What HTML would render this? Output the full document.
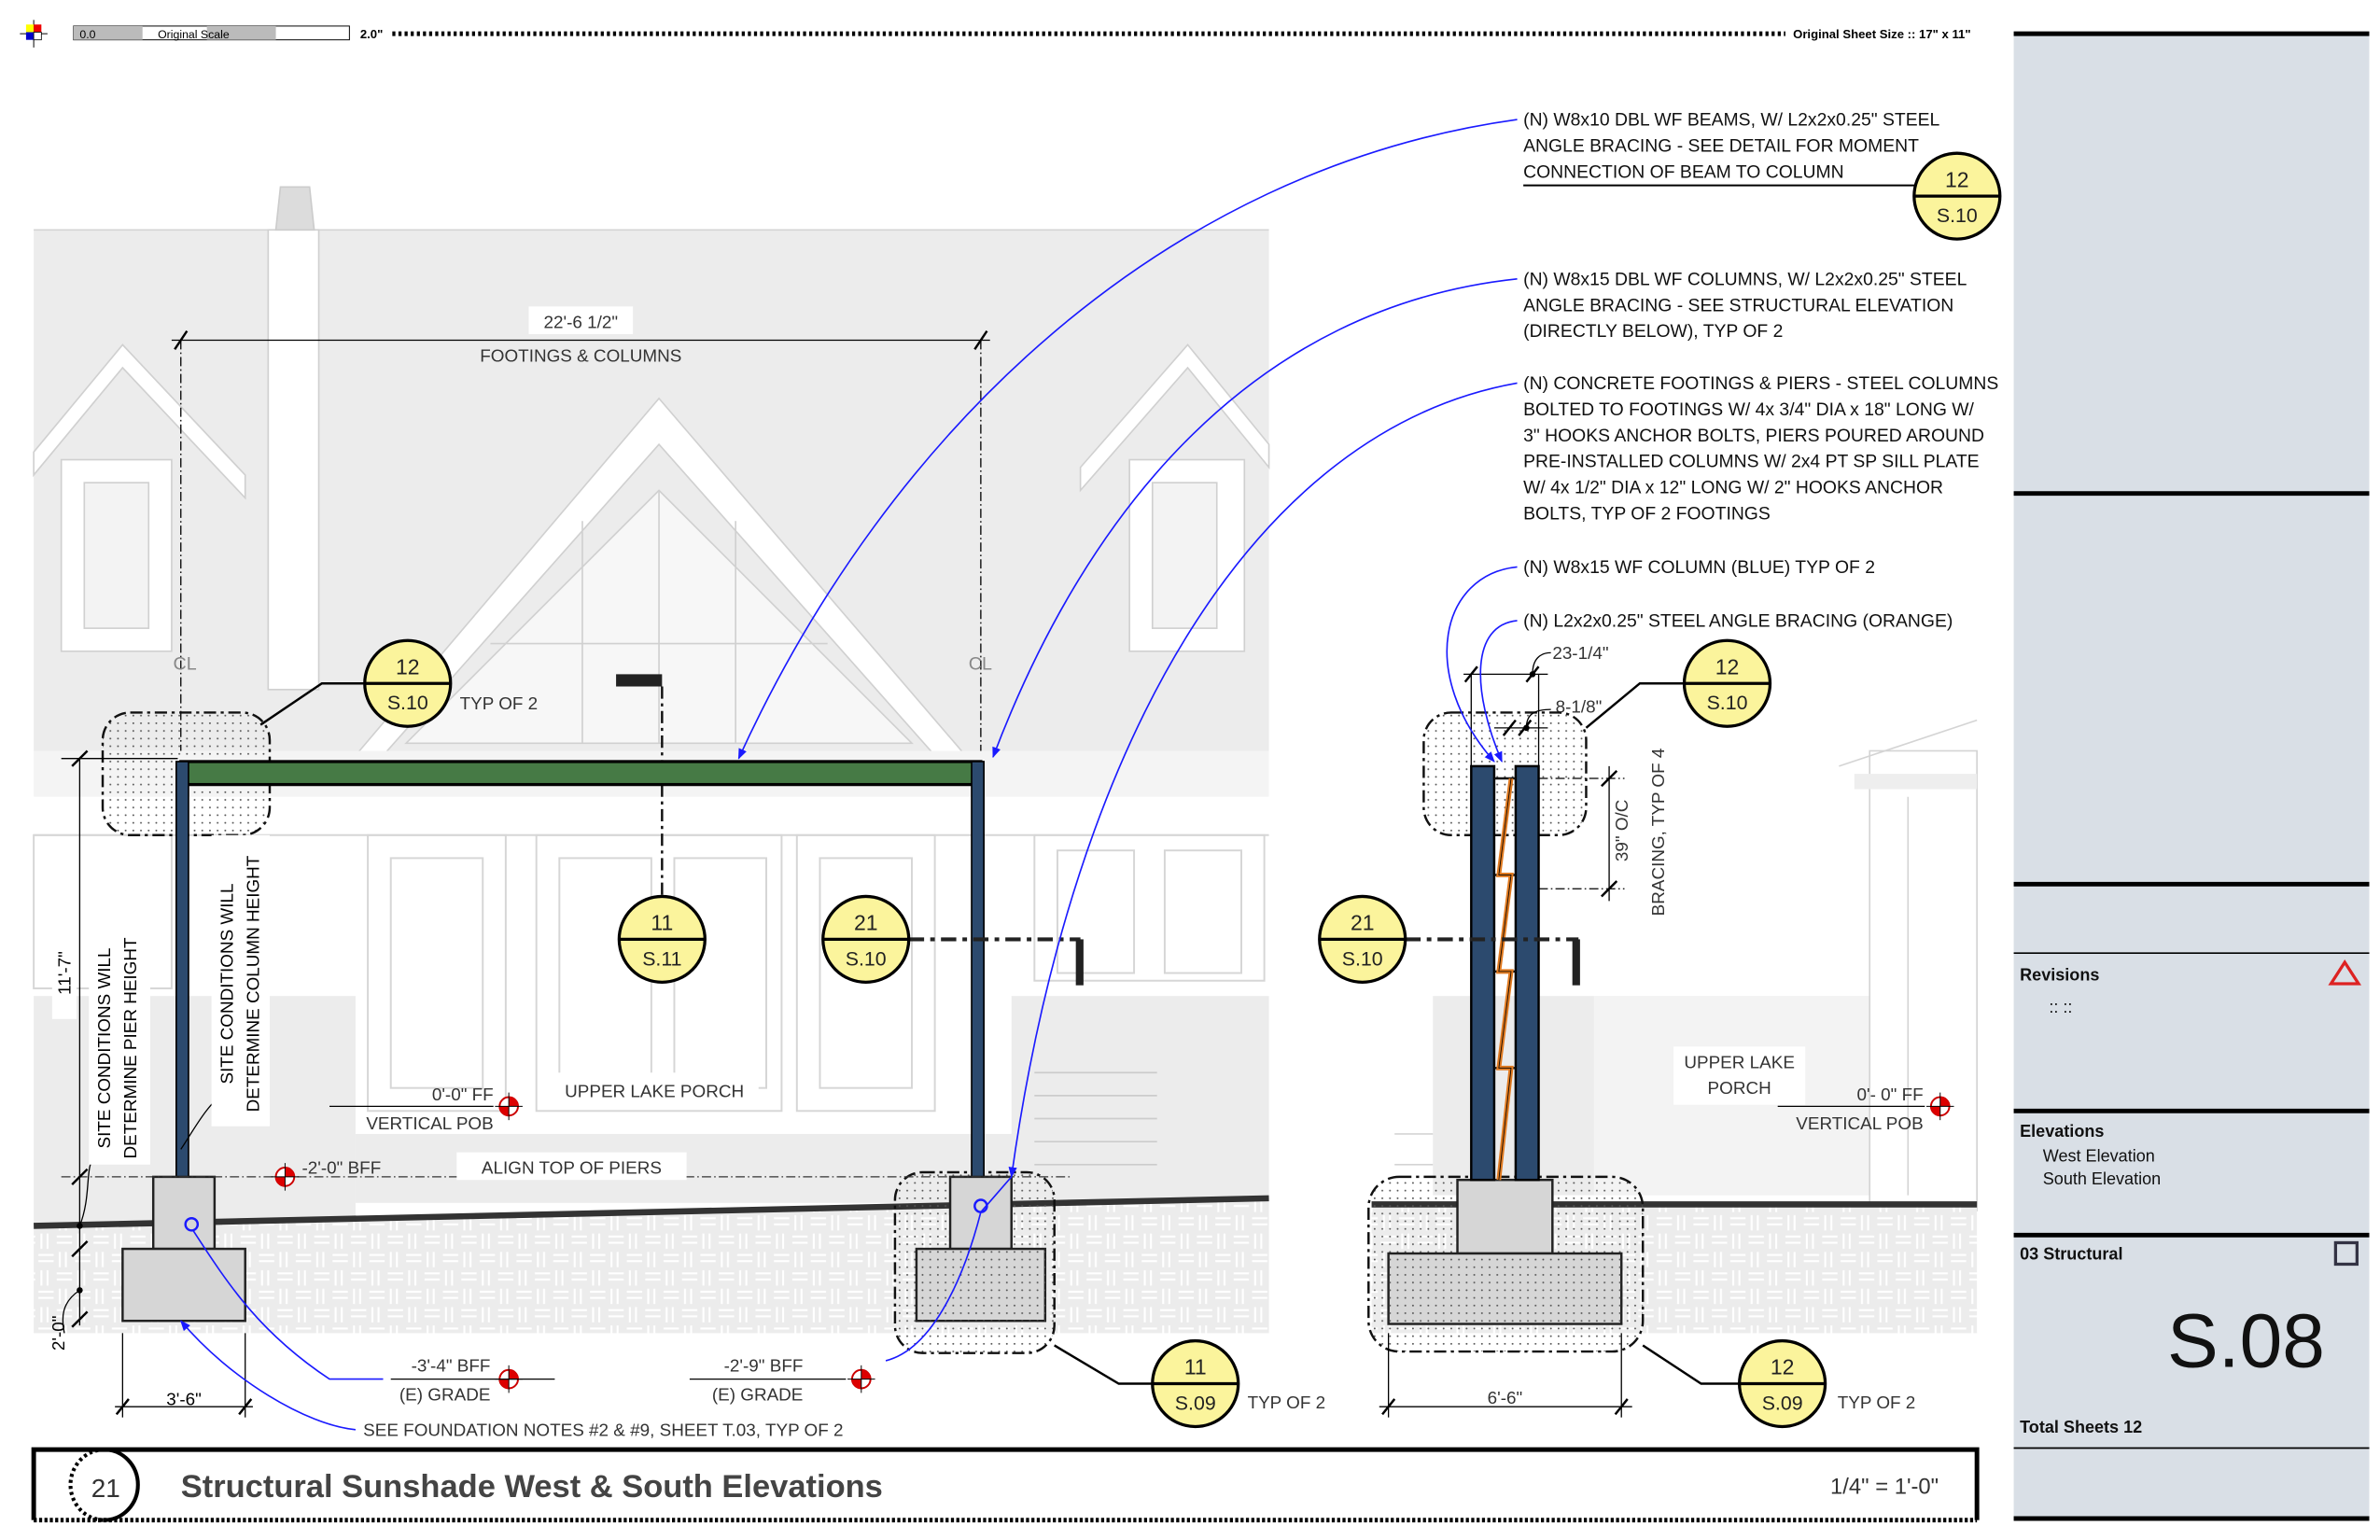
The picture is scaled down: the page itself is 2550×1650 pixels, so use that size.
<!DOCTYPE html>
<html><head><meta charset="utf-8"><style>
html,body{margin:0;padding:0;background:#fff}
svg{display:block}
text{font-family:"Liberation Sans",sans-serif}
</style></head><body>
<svg width="2550" height="1650" viewBox="0 0 1553 1005" preserveAspectRatio="none" xmlns="http://www.w3.org/2000/svg">
<defs>
<pattern id="dots" width="5" height="5" patternUnits="userSpaceOnUse"><circle cx="2" cy="2" r="0.6" fill="#555"/></pattern>
<pattern id="weave" width="24" height="24" patternUnits="userSpaceOnUse">
<rect width="24" height="24" fill="#ececec"/>
<g stroke="#fff" stroke-width="1.3"><line x1="1" y1="3" x2="11" y2="3"/><line x1="1" y1="7" x2="11" y2="7"/><line x1="15" y1="1" x2="15" y2="11"/><line x1="19" y1="1" x2="19" y2="11"/><line x1="3" y1="13" x2="3" y2="23"/><line x1="7" y1="13" x2="7" y2="23"/><line x1="13" y1="15" x2="23" y2="15"/><line x1="13" y1="19" x2="23" y2="19"/></g>
</pattern>
<marker id="ah" viewBox="0 0 10 10" refX="9" refY="5" markerWidth="7" markerHeight="7" orient="auto"><path d="M0,1 L10,5 L0,9 z" fill="#1a1aff"/></marker>
</defs>

<g>
<line x1="22" y1="13" x2="22" y2="31" stroke="#000" stroke-width="0.6"/><line x1="13" y1="22" x2="31" y2="22" stroke="#000" stroke-width="0.6"/>
<rect x="17" y="16" width="5" height="5" fill="#ff0"/><rect x="22" y="16" width="5" height="5" fill="#e00"/><rect x="17" y="21" width="5" height="5" fill="#00c"/><rect x="22" y="21" width="5" height="5" fill="#fff" stroke="#000" stroke-width="0.5"/>
<rect x="48" y="17" width="180" height="9" fill="#fff" stroke="#000" stroke-width="0.6"/>
<rect x="48" y="17" width="45" height="9" fill="#bbb"/><rect x="135" y="17" width="45" height="9" fill="#bbb"/>
<text x="52" y="25" font-size="7.5">0.0</text><text x="103" y="25" font-size="7.5">Original Scale</text>
<text x="235" y="25" font-size="8" font-weight="bold">2.0"</text>
<line x1="256" y1="22" x2="1165" y2="22" stroke="#000" stroke-width="3" stroke-dasharray="2,2"/>
<text x="1170" y="25" font-size="8" font-weight="bold">Original Sheet Size :: 17" x 11"</text>
</g>

<g>
<rect x="22" y="150" width="806" height="340" fill="#ececec"/>
<line x1="22" y1="150" x2="828" y2="150" stroke="#d4d4d4"/>
<rect x="175" y="150" width="33" height="300" fill="#fff" stroke="#d0d0d0"/>
<path d="M180,150 L183,122 L202,122 L205,150 z" fill="#dcdcdc" stroke="#ccc"/>
<g fill="#fff" stroke="#d0d0d0">
<path d="M22,310 L80,240 L160,325 L160,310 L80,225 L22,295 z"/>
<rect x="40" y="300" width="72" height="125"/>
<rect x="55" y="315" width="42" height="95" fill="#f3f3f3"/>
<path d="M705,320 L775,240 L828,305 L828,290 L775,225 L705,305 z"/>
<rect x="737" y="300" width="75" height="125"/>
<rect x="752" y="315" width="42" height="95" fill="#f3f3f3"/>
<path d="M232,493 L430,260 L630,493 L610,493 L430,290 L250,493 z"/>
<path d="M265,485 L430,320 L595,485 z" fill="#f7f7f7"/>
</g>
<g stroke="#d0d0d0" fill="none"><line x1="430" y1="320" x2="430" y2="485"/><line x1="380" y1="340" x2="380" y2="485"/><line x1="480" y1="340" x2="480" y2="485"/><line x1="320" y1="420" x2="540" y2="420"/></g>
<rect x="22" y="490" width="806" height="30" fill="#f4f4f4"/>
<rect x="22" y="520" width="806" height="260" fill="#fff"/>
<g fill="none" stroke="#d6d6d6" stroke-width="1.2">
<rect x="240" y="545" width="90" height="180"/><rect x="255" y="560" width="60" height="150"/>
<rect x="350" y="545" width="160" height="180"/><rect x="365" y="560" width="60" height="150"/><rect x="440" y="560" width="60" height="150"/>
<rect x="520" y="545" width="90" height="180"/><rect x="535" y="560" width="60" height="150"/>
<rect x="675" y="545" width="150" height="95"/><rect x="690" y="555" width="50" height="80"/><rect x="760" y="555" width="50" height="80"/>
<rect x="22" y="545" width="90" height="100"/>
<line x1="22" y1="545" x2="828" y2="545"/>
</g>
<rect x="22" y="650" width="210" height="150" fill="#ececec"/>
<rect x="232" y="740" width="440" height="45" fill="#ececec"/>
<rect x="660" y="650" width="168" height="135" fill="#ececec"/>
<g stroke="#ccc"><line x1="675" y1="700" x2="755" y2="700"/><line x1="675" y1="715" x2="755" y2="715"/><line x1="675" y1="730" x2="755" y2="730"/><line x1="675" y1="745" x2="755" y2="745"/><line x1="675" y1="760" x2="755" y2="760"/></g>
<path d="M22,800 L828,782 L828,870 L22,870 z" fill="url(#weave)"/>
<path d="M22,800 L828,782" stroke="#333" stroke-width="4"/>
</g>

<g>
<rect x="935" y="650" width="355" height="130" fill="#ececec"/>
<rect x="1040" y="650" width="180" height="130" fill="#f3f3f3"/>
<rect x="1220" y="490" width="70" height="300" fill="#fff" stroke="#d4d4d4"/>
<path d="M1200,500 L1290,470" stroke="#d4d4d4" fill="none"/>
<rect x="1210" y="505" width="80" height="10" fill="#eee"/>
<g stroke="#d4d4d4"><line x1="1245" y1="520" x2="1245" y2="780"/><line x1="910" y1="740" x2="935" y2="740"/><line x1="910" y1="760" x2="935" y2="760"/></g>
<rect x="895" y="785" width="395" height="85" fill="url(#weave)"/>
<line x1="895" y1="786" x2="1290" y2="786" stroke="#333" stroke-width="4"/>
</g>

<g stroke="#000" stroke-width="0.8">
<line x1="112" y1="222" x2="646" y2="222"/>
<line x1="114" y1="228" x2="122" y2="216" stroke-width="1.5"/><line x1="636" y1="228" x2="644" y2="216" stroke-width="1.5"/>
<line x1="118" y1="222" x2="118" y2="490" stroke-dasharray="6,2,1,2"/>
<line x1="640" y1="222" x2="640" y2="490" stroke-dasharray="6,2,1,2"/>
</g>
<rect x="345" y="200" width="68" height="18" fill="#fff"/>
<text x="379" y="214" font-size="11.5" text-anchor="middle" fill="#333">22'-6 1/2"</text>
<text x="379" y="236" font-size="11.5" text-anchor="middle" fill="#333">FOOTINGS &amp; COLUMNS</text>
<text x="113" y="437" font-size="12" fill="#888">CL</text>
<text x="632" y="437" font-size="12" fill="#888">CL</text>

<rect x="402" y="440" width="30" height="8" fill="#222"/>
<line x1="432" y1="448" x2="432" y2="585" stroke="#111" stroke-width="1.5" stroke-dasharray="8,3,2,3"/>

<rect x="67" y="465" width="109" height="80" rx="18" fill="url(#dots)" stroke="#111" stroke-width="1.5" stroke-dasharray="8,3,2,3"/>
<rect x="584" y="765" width="104" height="118" rx="18" fill="url(#dots)" stroke="#111" stroke-width="1.5" stroke-dasharray="8,3,2,3"/>

<rect x="118" y="497" width="522" height="15" fill="#467a45" stroke="#000" stroke-width="2"/>
<rect x="115" y="497" width="8" height="271" fill="#2c4a6e" stroke="#000" stroke-width="1"/>
<rect x="634" y="497" width="8" height="271" fill="#2c4a6e" stroke="#000" stroke-width="1"/>

<rect x="100" y="768" width="40" height="47" fill="#d6d6d6" stroke="#222" stroke-width="1.5"/>
<rect x="80" y="815" width="80" height="47" fill="#d6d6d6" stroke="#222" stroke-width="1.5"/>
<rect x="620" y="768" width="40" height="47" fill="#d6d6d6" stroke="#222" stroke-width="1.5"/>
<rect x="598" y="815" width="84" height="47" fill="#d6d6d6" stroke="#222" stroke-width="1.5"/>
<rect x="598" y="815" width="84" height="47" fill="url(#dots)"/>
<circle cx="125" cy="799" r="4" fill="none" stroke="#1a1aff" stroke-width="1.5"/>
<circle cx="640" cy="787" r="4" fill="none" stroke="#1a1aff" stroke-width="1.5"/>

<line x1="40" y1="768" x2="700" y2="768" stroke="#333" stroke-width="0.8" stroke-dasharray="6,2,1,2"/>

<g stroke="#000" stroke-width="0.8" fill="none">
<line x1="52" y1="495" x2="52" y2="865"/>
<line x1="47" y1="500" x2="57" y2="490" stroke-width="1.5"/>
<line x1="47" y1="773" x2="57" y2="763" stroke-width="1.5"/>
<line x1="47" y1="820" x2="57" y2="810" stroke-width="1.5"/>
<line x1="47" y1="866" x2="57" y2="856" stroke-width="1.5"/>
<line x1="40" y1="495" x2="116" y2="495"/>
<line x1="80" y1="870" x2="80" y2="925"/><line x1="160" y1="870" x2="160" y2="925"/>
<line x1="75" y1="918" x2="165" y2="918"/>
<line x1="76" y1="923" x2="84" y2="913" stroke-width="1.5"/><line x1="156" y1="923" x2="164" y2="913" stroke-width="1.5"/>
<path d="M52,800 C60,780 55,760 62,755"/>
<path d="M52,842 C40,850 40,860 42,870"/>
<path d="M118,750 C125,740 135,720 148,712"/>
</g>
<circle cx="52" cy="800" r="2" fill="#000"/><circle cx="52" cy="842" r="2" fill="#000"/>
<rect x="34" y="595" width="16" height="70" fill="#fff"/>
<text transform="translate(46,635) rotate(-90)" font-size="11.5" text-anchor="middle">11'-7"</text>
<text transform="translate(42,870) rotate(-90)" font-size="11.5" text-anchor="middle">2'-0"</text>
<rect x="58" y="600" width="40" height="160" fill="#fff"/>
<text transform="translate(72,684) rotate(-90)" font-size="11.5" text-anchor="middle">SITE CONDITIONS WILL</text>
<text transform="translate(89,684) rotate(-90)" font-size="11.5" text-anchor="middle">DETERMINE PIER HEIGHT</text>
<rect x="138" y="545" width="38" height="190" fill="#fff"/>
<text transform="translate(152,642) rotate(-90)" font-size="11.5" text-anchor="middle">SITE CONDITIONS WILL</text>
<text transform="translate(169,642) rotate(-90)" font-size="11.5" text-anchor="middle">DETERMINE COLUMN HEIGHT</text>
<text x="120" y="917" font-size="11.5" text-anchor="middle">3'-6"</text>

<g>
<g transform="translate(332,722)"><circle r="6" fill="#fff" stroke="#c00" stroke-width="1.2"/><path d="M0,0 L0,-6 A6,6 0 0 1 6,0 z M0,0 L0,6 A6,6 0 0 1 -6,0 z" fill="#d00"/><line x1="-9" y1="0" x2="9" y2="0" stroke="#000" stroke-width="0.6"/><line x1="0" y1="-9" x2="0" y2="9" stroke="#000" stroke-width="0.6"/></g>
<g transform="translate(186,768)"><circle r="6" fill="#fff" stroke="#c00" stroke-width="1.2"/><path d="M0,0 L0,-6 A6,6 0 0 1 6,0 z M0,0 L0,6 A6,6 0 0 1 -6,0 z" fill="#d00"/><line x1="-9" y1="0" x2="9" y2="0" stroke="#000" stroke-width="0.6"/><line x1="0" y1="-9" x2="0" y2="9" stroke="#000" stroke-width="0.6"/></g>
<g transform="translate(332,900)"><circle r="6" fill="#fff" stroke="#c00" stroke-width="1.2"/><path d="M0,0 L0,-6 A6,6 0 0 1 6,0 z M0,0 L0,6 A6,6 0 0 1 -6,0 z" fill="#d00"/><line x1="-9" y1="0" x2="9" y2="0" stroke="#000" stroke-width="0.6"/><line x1="0" y1="-9" x2="0" y2="9" stroke="#000" stroke-width="0.6"/></g>
<g transform="translate(562,900)"><circle r="6" fill="#fff" stroke="#c00" stroke-width="1.2"/><path d="M0,0 L0,-6 A6,6 0 0 1 6,0 z M0,0 L0,6 A6,6 0 0 1 -6,0 z" fill="#d00"/><line x1="-9" y1="0" x2="9" y2="0" stroke="#000" stroke-width="0.6"/><line x1="0" y1="-9" x2="0" y2="9" stroke="#000" stroke-width="0.6"/></g>
<g transform="translate(1266,722)"><circle r="6" fill="#fff" stroke="#c00" stroke-width="1.2"/><path d="M0,0 L0,-6 A6,6 0 0 1 6,0 z M0,0 L0,6 A6,6 0 0 1 -6,0 z" fill="#d00"/><line x1="-9" y1="0" x2="9" y2="0" stroke="#000" stroke-width="0.6"/><line x1="0" y1="-9" x2="0" y2="9" stroke="#000" stroke-width="0.6"/></g>
</g>
<g stroke="#000" stroke-width="0.8">
<line x1="215" y1="722" x2="322" y2="722"/>
<line x1="255" y1="900" x2="362" y2="900"/>
<line x1="450" y1="900" x2="552" y2="900"/>
<line x1="1160" y1="722" x2="1256" y2="722"/>
</g>
<g font-size="11.5" fill="#333">
<text x="322" y="718" text-anchor="end">0'-0" FF</text>
<text x="322" y="737" text-anchor="end">VERTICAL POB</text>
<rect x="360" y="700" width="135" height="18" fill="#fff"/>
<text x="427" y="716" text-anchor="middle">UPPER LAKE PORCH</text>
<text x="197" y="766">-2'-0" BFF</text>
<rect x="298" y="752" width="150" height="18" fill="#fff"/>
<text x="373" y="766" text-anchor="middle">ALIGN TOP OF PIERS</text>
<text x="320" y="895" text-anchor="end">-3'-4" BFF</text>
<text x="320" y="914" text-anchor="end">(E) GRADE</text>
<text x="524" y="895" text-anchor="end">-2'-9" BFF</text>
<text x="524" y="914" text-anchor="end">(E) GRADE</text>
<text x="237" y="937">SEE FOUNDATION NOTES #2 &amp; #9, SHEET T.03, TYP OF 2</text>
<text x="300" y="463">TYP OF 2</text>
<text x="814" y="919">TYP OF 2</text>
<text x="1199" y="919">TYP OF 2</text>
<rect x="1092" y="683" width="86" height="38" fill="#fff"/>
<text x="1135" y="697" text-anchor="middle">UPPER LAKE</text>
<text x="1135" y="714" text-anchor="middle">PORCH</text>
<text x="1255" y="718" text-anchor="end">0'- 0" FF</text>
<text x="1255" y="737" text-anchor="end">VERTICAL POB</text>
<text x="982" y="916" text-anchor="middle">6'-6"</text>
<text x="1013" y="430">23-1/4"</text>
<text x="1015" y="465">8-1/8"</text>
<text transform="translate(1062,542) rotate(-90)" text-anchor="middle">39" O/C</text>
<text transform="translate(1086,543) rotate(-90)" text-anchor="middle">BRACING, TYP OF 4</text>
</g>

<rect x="929" y="465" width="106" height="80" rx="18" fill="url(#dots)" stroke="#111" stroke-width="1.5" stroke-dasharray="8,3,2,3"/>
<rect x="893" y="768" width="179" height="114" rx="20" fill="url(#dots)" stroke="#111" stroke-width="1.5" stroke-dasharray="8,3,2,3"/>
<rect x="951" y="770" width="62" height="48" fill="#d6d6d6" stroke="#222" stroke-width="1.5"/>
<rect x="906" y="818" width="152" height="46" fill="#d6d6d6" stroke="#222" stroke-width="1.5"/>
<rect x="906" y="818" width="152" height="46" fill="url(#dots)"/>
<rect x="960" y="500" width="15" height="270" fill="#2c4a6e" stroke="#000" stroke-width="1.5"/>
<rect x="989" y="500" width="15" height="270" fill="#2c4a6e" stroke="#000" stroke-width="1.5"/>
<g stroke="#111" stroke-width="1.5"><line x1="975" y1="508" x2="989" y2="508"/><line x1="975" y1="571" x2="989" y2="571"/><line x1="975" y1="634" x2="989" y2="634"/><line x1="975" y1="697" x2="989" y2="697"/></g>
<path d="M986,508 L978,571 L986,571 L978,634 L986,634 L978,697 L986,697 L978,770" fill="none" stroke="#e07a20" stroke-width="3"/>
<path d="M986,508 L978,571 L986,571 L978,634 L986,634 L978,697 L986,697 L978,770" fill="none" stroke="#000" stroke-width="0.5"/>
<g stroke="#000" stroke-width="0.8" fill="none">
<line x1="955" y1="440" x2="1010" y2="440"/>
<line x1="956" y1="445" x2="964" y2="435" stroke-width="1.5"/><line x1="996" y1="445" x2="1004" y2="435" stroke-width="1.5"/>
<line x1="960" y1="440" x2="960" y2="500"/><line x1="1004" y1="440" x2="1004" y2="500"/>
<line x1="975" y1="475" x2="1010" y2="475"/>
<line x1="981" y1="480" x2="989" y2="470" stroke-width="1.5"/><line x1="991" y1="480" x2="999" y2="470" stroke-width="1.5"/>
<path d="M1000,440 C1000,430 1005,426 1012,426"/><path d="M996,475 C996,467 1000,463 1012,463"/>
<line x1="1004" y1="508" x2="1060" y2="508" stroke-dasharray="6,2,1,2"/>
<line x1="1004" y1="580" x2="1060" y2="580" stroke-dasharray="6,2,1,2"/>
<line x1="1050" y1="500" x2="1050" y2="588"/>
<line x1="1045" y1="513" x2="1055" y2="503" stroke-width="1.5"/><line x1="1045" y1="585" x2="1055" y2="575" stroke-width="1.5"/>
<line x1="906" y1="870" x2="906" y2="925"/><line x1="1058" y1="870" x2="1058" y2="925"/>
<line x1="900" y1="918" x2="1065" y2="918"/>
<line x1="902" y1="923" x2="910" y2="913" stroke-width="1.5"/><line x1="1054" y1="923" x2="1062" y2="913" stroke-width="1.5"/>
</g>
<circle cx="1000" cy="440" r="2" fill="#000"/><circle cx="996" cy="475" r="2" fill="#000"/>

<line x1="593" y1="613" x2="705" y2="613" stroke="#222" stroke-width="2.5" stroke-dasharray="10,4,3,4"/>
<rect x="702" y="613" width="5" height="30" fill="#222"/>
<line x1="917" y1="613" x2="1030" y2="613" stroke="#222" stroke-width="2.5" stroke-dasharray="10,4,3,4"/>
<rect x="1026" y="613" width="5" height="30" fill="#222"/>

<g stroke="#000" stroke-width="1.5" fill="none">
<polyline points="170,473 210,446 238,446"/>
<polyline points="1035,475 1070,446 1099,446"/>
<polyline points="688,878 730,903 752,903"/>
<polyline points="1072,878 1110,903 1135,903"/>
</g>

<g stroke="#1a1aff" stroke-width="1" fill="none">
<path d="M990,78 C760,110 580,280 482,495" marker-end="url(#ah)"/>
<path d="M990,182 C820,200 710,330 648,494" marker-end="url(#ah)"/>
<path d="M990,250 C820,280 700,480 660,768" marker-end="url(#ah)"/>
<path d="M660,768 L640,791"/>
<path d="M990,370 C940,375 925,440 975,497" marker-end="url(#ah)"/>
<path d="M990,405 C960,408 960,450 980,497" marker-end="url(#ah)"/>
<path d="M126,803 C150,840 170,870 215,900 L250,900"/>
<path d="M578,888 C610,880 630,830 640,791"/>
<path d="M232,933 C200,930 150,900 118,862" marker-end="url(#ah)"/>
</g>

<g font-size="11.8" fill="#111">
<text x="994" y="82">(N) W8x10 DBL WF BEAMS, W/ L2x2x0.25" STEEL</text>
<text x="994" y="99">ANGLE BRACING - SEE DETAIL FOR MOMENT</text>
<text x="994" y="116">CONNECTION OF BEAM TO COLUMN</text>
<text x="994" y="186">(N) W8x15 DBL WF COLUMNS, W/ L2x2x0.25" STEEL</text>
<text x="994" y="203">ANGLE BRACING - SEE STRUCTURAL ELEVATION</text>
<text x="994" y="220">(DIRECTLY BELOW), TYP OF 2</text>
<text x="994" y="254">(N) CONCRETE FOOTINGS &amp; PIERS - STEEL COLUMNS</text>
<text x="994" y="271">BOLTED TO FOOTINGS W/ 4x 3/4" DIA x 18" LONG W/</text>
<text x="994" y="288">3" HOOKS ANCHOR BOLTS, PIERS POURED AROUND</text>
<text x="994" y="305">PRE-INSTALLED COLUMNS W/ 2x4 PT SP SILL PLATE</text>
<text x="994" y="322">W/ 4x 1/2" DIA x 12" LONG W/ 2" HOOKS ANCHOR</text>
<text x="994" y="339">BOLTS, TYP OF 2 FOOTINGS</text>
<text x="994" y="374">(N) W8x15 WF COLUMN (BLUE) TYP OF 2</text>
<text x="994" y="409">(N) L2x2x0.25" STEEL ANGLE BRACING (ORANGE)</text>
</g>
<line x1="994" y1="121" x2="1250" y2="121" stroke="#000" stroke-width="1.2"/>

<g font-size="14" text-anchor="middle" fill="#222">
<g transform="translate(1277,128)"><circle r="28" fill="#fbf49c" stroke="#000" stroke-width="2"/><line x1="-28" y1="0" x2="28" y2="0" stroke="#000" stroke-width="2"/><text y="-6">12</text><text y="17" font-size="13">S.10</text></g>
<g transform="translate(266,446)"><circle r="28" fill="#fbf49c" stroke="#000" stroke-width="2"/><line x1="-28" y1="0" x2="28" y2="0" stroke="#000" stroke-width="2"/><text y="-6">12</text><text y="17" font-size="13">S.10</text></g>
<g transform="translate(432,613)"><circle r="28" fill="#fbf49c" stroke="#000" stroke-width="2"/><line x1="-28" y1="0" x2="28" y2="0" stroke="#000" stroke-width="2"/><text y="-6">11</text><text y="17" font-size="13">S.11</text></g>
<g transform="translate(565,613)"><circle r="28" fill="#fbf49c" stroke="#000" stroke-width="2"/><line x1="-28" y1="0" x2="28" y2="0" stroke="#000" stroke-width="2"/><text y="-6">21</text><text y="17" font-size="13">S.10</text></g>
<g transform="translate(889,613)"><circle r="28" fill="#fbf49c" stroke="#000" stroke-width="2"/><line x1="-28" y1="0" x2="28" y2="0" stroke="#000" stroke-width="2"/><text y="-6">21</text><text y="17" font-size="13">S.10</text></g>
<g transform="translate(1127,446)"><circle r="28" fill="#fbf49c" stroke="#000" stroke-width="2"/><line x1="-28" y1="0" x2="28" y2="0" stroke="#000" stroke-width="2"/><text y="-6">12</text><text y="17" font-size="13">S.10</text></g>
<g transform="translate(780,903)"><circle r="28" fill="#fbf49c" stroke="#000" stroke-width="2"/><line x1="-28" y1="0" x2="28" y2="0" stroke="#000" stroke-width="2"/><text y="-6">11</text><text y="17" font-size="13">S.09</text></g>
<g transform="translate(1163,903)"><circle r="28" fill="#fbf49c" stroke="#000" stroke-width="2"/><line x1="-28" y1="0" x2="28" y2="0" stroke="#000" stroke-width="2"/><text y="-6">12</text><text y="17" font-size="13">S.09</text></g>
</g>

<path d="M22,992 L22,946 L1290,946 L1290,992" fill="none" stroke="#000" stroke-width="3"/>
<line x1="22" y1="992" x2="1290" y2="992" stroke="#000" stroke-width="3" stroke-dasharray="2,1.5"/>
<path d="M68,946 A22,23 0 0 1 68,992" fill="none" stroke="#000" stroke-width="2.5"/>
<path d="M68,946 A22,23 0 0 0 68,992" fill="none" stroke="#000" stroke-width="2.5" stroke-dasharray="2,2"/>
<text x="69" y="977" font-size="17" text-anchor="middle" fill="#333">21</text>
<text x="118" y="977" font-size="21" font-weight="bold" fill="#444">Structural Sunshade West &amp; South Elevations</text>
<text x="1265" y="975" font-size="14.5" text-anchor="end" fill="#333">1/4" = 1'-0"</text>

<rect x="1314" y="22" width="232" height="970" fill="#d9dfe6"/>
<g stroke="#000">
<line x1="1314" y1="22" x2="1546" y2="22" stroke-width="3"/>
<line x1="1314" y1="322" x2="1546" y2="322" stroke-width="3"/>
<line x1="1314" y1="577" x2="1546" y2="577" stroke-width="3"/>
<line x1="1314" y1="622" x2="1546" y2="622" stroke-width="1"/>
<line x1="1314" y1="725" x2="1546" y2="725" stroke-width="3"/>
<line x1="1314" y1="806" x2="1546" y2="806" stroke-width="3"/>
<line x1="1314" y1="945" x2="1546" y2="945" stroke-width="1"/>
<line x1="1314" y1="991" x2="1546" y2="991" stroke-width="3"/>
</g>
<g font-size="11" fill="#111">
<text x="1318" y="640" font-weight="bold">Revisions</text>
<text x="1337" y="661">:: ::</text>
<text x="1318" y="742" font-weight="bold">Elevations</text>
<text x="1333" y="758">West Elevation</text>
<text x="1333" y="773">South Elevation</text>
<text x="1318" y="822" font-weight="bold">03 Structural</text>
<text x="1318" y="935" font-weight="bold">Total Sheets 12</text>
</g>
<path d="M1530,628 L1539,642 L1521,642 z" fill="none" stroke="#d22" stroke-width="2"/>
<rect x="1524" y="811" width="14" height="14" fill="none" stroke="#334" stroke-width="2"/>
<text x="1517" y="892" font-size="50" text-anchor="end" fill="#111">S.08</text>
</svg>
</body></html>
